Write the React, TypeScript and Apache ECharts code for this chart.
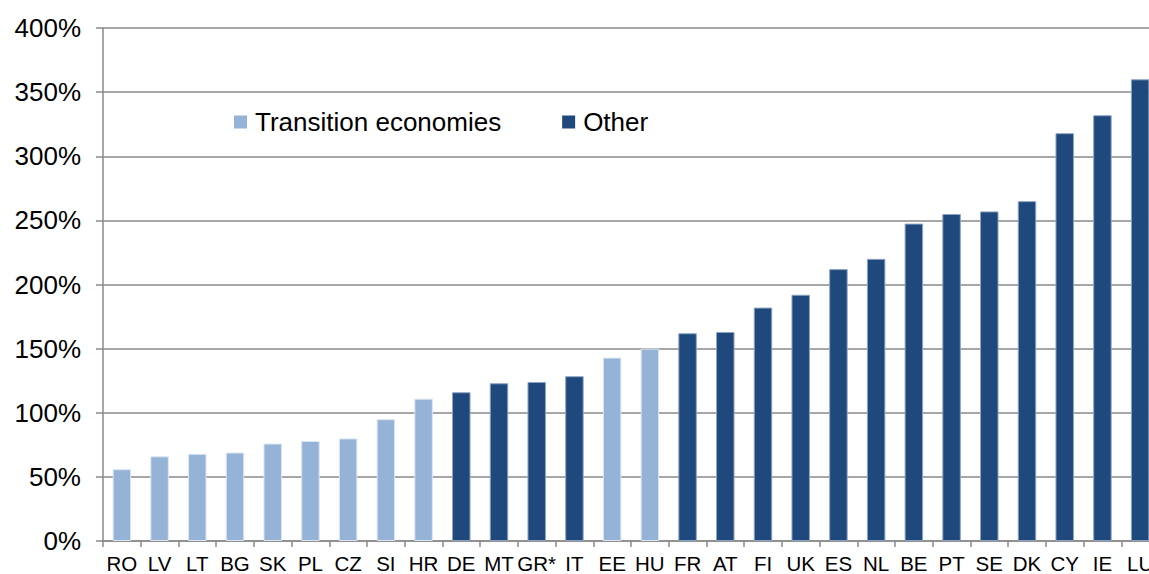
import React, { useEffect, useRef } from "react";
import * as echarts from "echarts";

const categories = ["RO", "LV", "LT", "BG", "SK", "PL", "CZ", "SI", "HR", "DE", "MT", "GR*", "IT", "EE", "HU", "FR", "AT", "FI", "UK", "ES", "NL", "BE", "PT", "SE", "DK", "CY", "IE", "LU"];
const values = [56, 66, 68, 69, 76, 78, 80, 95, 111, 116, 123, 124, 128.5, 143, 150, 162, 163, 182, 192, 212, 220, 247.5, 255, 257, 265, 318, 332, 360];
const transitionSet = ["RO", "LV", "LT", "BG", "SK", "PL", "CZ", "SI", "HR", "EE", "HU"];
const seriesNames = ["Transition economies", "Other"];
const yTicks = { min: 0, max: 400, interval: 50 };

const transitionValues = categories.map((c, i) => (transitionSet.includes(c) ? values[i] : "-"));
const otherValues = categories.map((c, i) => (transitionSet.includes(c) ? "-" : values[i]));

export default function App() {
  const ref = useRef<HTMLDivElement>(null);
  useEffect(() => {
    if (!ref.current) return;
    const chart = echarts.init(ref.current, null, { renderer: "svg" });
    const grey = "#8a8a8a";
    const font = "Liberation Sans, Arial, sans-serif";
    chart.setOption({
      animation: false,
      backgroundColor: "#ffffff",
      textStyle: { fontFamily: font, color: "#000" },
      grid: { left: 103, right: 11, top: 28, bottom: 32, containLabel: false },
      legend: {
        data: seriesNames,
        left: 234,
        top: 109,
        padding: 0,
        icon: "rect",
        itemWidth: 13,
        itemHeight: 13,
        itemGap: 61,
        itemStyle: { borderWidth: 0 },
        textStyle: { fontSize: 26, color: "#000", padding: [0, 0, 0, 3], fontFamily: font },
      },
      xAxis: {
        type: "category",
        data: categories,
        axisLine: { lineStyle: { color: grey, width: 1.5 } },
        axisTick: { show: true, length: 6, lineStyle: { color: grey, width: 1.5 } },
        axisLabel: { fontSize: 20.5, color: "#000", margin: 12, interval: 0, fontFamily: font },
      },
      yAxis: {
        type: "value",
        min: yTicks.min,
        max: yTicks.max,
        interval: yTicks.interval,
        axisLine: { show: true, lineStyle: { color: grey, width: 1.5 } },
        axisTick: { show: true, length: 7, lineStyle: { color: grey, width: 1.5 } },
        splitLine: { lineStyle: { color: grey, width: 1.5 } },
        axisLabel: { formatter: "{value}%", fontSize: 26, color: "#000", margin: 22, fontFamily: font },
      },
      series: [
        {
          name: seriesNames[0],
          type: "bar",
          data: transitionValues,
          barWidth: "49%",
          barGap: "-100%",
          itemStyle: { color: "#95b3d7", borderColor: "#dbe6f2", borderWidth: 1 },
        },
        {
          name: seriesNames[1],
          type: "bar",
          data: otherValues,
          barWidth: "49%",
          barGap: "-100%",
          itemStyle: { color: "#1f497d", borderColor: "#8ea5c3", borderWidth: 1 },
        },
      ],
    });
    return () => chart.dispose();
  }, []);
  return (
    <div style={{ position: "fixed", left: 0, top: 0, width: 1149, height: 574, overflow: "hidden", background: "#fff" }}>
      <div ref={ref} style={{ width: 1170, height: 574 }} />
    </div>
  );
}
